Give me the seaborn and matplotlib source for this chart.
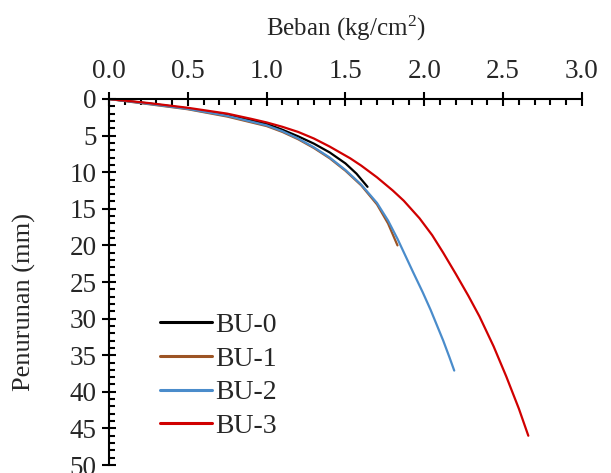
import matplotlib
matplotlib.use("Agg")
import matplotlib.pyplot as plt
import pandas as pd
import seaborn as sns
from matplotlib.ticker import FormatStrFormatter, MultipleLocator

# ---------------- data ----------------
bu0_x = [0, 0.25, 0.5, 0.75, 1.0, 1.1, 1.2, 1.3, 1.4, 1.5, 1.57, 1.64]
bu0_y = [0, 0.6, 1.3, 2.2, 3.4, 4.2, 5.1, 6.1, 7.3, 8.8, 10.2, 12.0]

bu1_x = [0, 0.25, 0.5, 0.75, 1.0, 1.1, 1.2, 1.3, 1.4, 1.5, 1.6, 1.7, 1.77, 1.83]
bu1_y = [0, 0.7, 1.4, 2.4, 3.7, 4.5, 5.5, 6.7, 8.1, 9.8, 11.8, 14.4, 17.0, 20.0]

bu2_x = [0, 0.25, 0.5, 0.75, 1.0, 1.1, 1.2, 1.3, 1.4, 1.5, 1.6, 1.7, 1.77, 1.83,
         1.88, 1.93, 1.99, 2.04, 2.08, 2.12, 2.16, 2.19]
bu2_y = [0, 0.65, 1.35, 2.3, 3.6, 4.4, 5.4, 6.6, 8.0, 9.7, 11.7, 14.2, 16.6, 19.1,
         21.4, 23.7, 26.4, 28.8, 30.9, 33.0, 35.3, 37.1]

bu3_x = [0, 0.25, 0.5, 0.75, 0.9, 1.0, 1.1, 1.2, 1.3, 1.4, 1.53, 1.6, 1.7, 1.8,
         1.87, 1.97, 2.05, 2.12, 2.2, 2.28, 2.35, 2.44, 2.52, 2.6, 2.66]
bu3_y = [0, 0.55, 1.2, 2.0, 2.7, 3.2, 3.8, 4.5, 5.4, 6.5, 8.1, 9.1, 10.7, 12.5,
         13.9, 16.3, 18.6, 21.0, 23.9, 26.9, 29.7, 33.8, 37.9, 42.3, 46.0]

series = ["BU-0", "BU-1", "BU-2", "BU-3"]
colors = ["#000000", "#9C5424", "#4A8CCB", "#D00000"]

df = pd.concat([
    pd.DataFrame({"beban": x, "penurunan": y, "seri": name})
    for name, x, y in zip(series, [bu0_x, bu1_x, bu2_x, bu3_x],
                          [bu0_y, bu1_y, bu2_y, bu3_y])
], ignore_index=True)

sns.set_style("white")
plt.rcParams["font.family"] = ["Liberation Serif", "DejaVu Serif"]
plt.rcParams["mathtext.fontset"] = "custom"
plt.rcParams["mathtext.rm"] = "Liberation Serif"

fig = plt.figure(figsize=(6.11, 4.73), dpi=100)
ax = fig.add_axes([0.1784, 0.0169, 0.774, 0.7738])

sns.lineplot(df, x="beban", y="penurunan", hue="seri", palette=colors,
             linewidth=1.6, sort=False, estimator=None, ax=ax)

ax.set_xlim(0, 3.0)
ax.set_ylim(50, 0)

ax.xaxis.set_major_locator(MultipleLocator(0.5))
ax.xaxis.set_minor_locator(MultipleLocator(0.1))
ax.yaxis.set_major_locator(MultipleLocator(5))
ax.yaxis.set_minor_locator(MultipleLocator(1))
ax.xaxis.set_major_formatter(FormatStrFormatter("%.1f"))

ax.xaxis.tick_top()
ax.xaxis.set_label_position("top")
ax.tick_params(axis="both", which="major", direction="inout", length=10,
               width=1.5, labelsize=19.5, color="black")
ax.tick_params(axis="both", which="minor", direction="in", length=4.5,
               width=1.5, color="black")
ax.tick_params(axis="x", which="both", top=True, bottom=False, pad=6)
ax.tick_params(axis="y", which="both", left=True, right=False, pad=4)

for side in ["right", "bottom"]:
    ax.spines[side].set_visible(False)
for side in ["top", "left"]:
    ax.spines[side].set_color("black")
    ax.spines[side].set_linewidth(1.5)

ax.set_xlabel("Beban (kg/cm$\\mathrm{^2}$)", fontsize=18, labelpad=17)
ax.set_ylabel("Penurunan (mm)", fontsize=19)
ax.yaxis.set_label_coords(-0.155, 0.445)

leg = ax.legend(loc="upper left", bbox_to_anchor=(0.108, 0.417), frameon=False,
                fontsize=20, handlelength=1.87, handletextpad=0.1,
                labelspacing=0.3, borderaxespad=0, borderpad=0)
for line in leg.get_lines():
    line.set_linewidth(2.2)

fig.savefig("out.png", dpi=100)
